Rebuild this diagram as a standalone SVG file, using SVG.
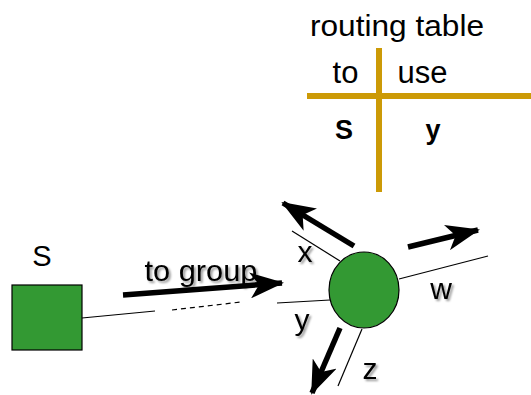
<svg xmlns="http://www.w3.org/2000/svg" width="531" height="395" viewBox="0 0 531 395">
  <style>
    .lbl { font-family: "Liberation Sans", Arial, sans-serif; fill: #000; }
    .thin { stroke: #000; stroke-width: 1.2; fill: none; }
    .thick { stroke: #000; stroke-width: 5.5; fill: none; marker-end: url(#head); }
    .rule { stroke: #cc9a06; stroke-width: 6; }
    .node { fill: #339933; stroke: #000; stroke-width: 1.2; }
    .shadow { filter: url(#drop); }
  </style>
  <defs>
    <marker id="head" viewBox="0 0 34 26" markerUnits="userSpaceOnUse" markerWidth="34" markerHeight="26" refX="32" refY="13" orient="auto">
      <path d="M0,0 L34,13 L0,26 L9,13 Z" fill="#000"/>
    </marker>
    <filter id="drop" x="-20%" y="-20%" width="160%" height="160%">
      <feDropShadow dx="2" dy="2" stdDeviation="1" flood-color="#000" flood-opacity="0.4"/>
    </filter>
  </defs>

  <!-- routing table -->
  <g id="routing-table">
    <text class="lbl" x="397" y="36" font-size="30" text-anchor="middle" textLength="174" lengthAdjust="spacingAndGlyphs">routing table</text>
    <line class="rule" x1="379" y1="48" x2="379" y2="192"/>
    <line class="rule" x1="307" y1="96" x2="531" y2="96"/>
    <text class="lbl" x="345.5" y="83" font-size="31" text-anchor="middle">to</text>
    <text class="lbl" x="422.5" y="83" font-size="31" text-anchor="middle">use</text>
    <text class="lbl" x="344" y="139" font-size="27" font-weight="bold" text-anchor="middle">S</text>
    <text class="lbl" x="433" y="139" font-size="27" font-weight="bold" text-anchor="middle">y</text>
  </g>

  <!-- links and travel arrows -->
  <g id="connectors">
    <polyline class="thin" points="82,318 155,311"/>
    <line class="thin" x1="172" y1="310" x2="241" y2="302" stroke-dasharray="5,4"/>
    <line class="thin" x1="277" y1="303" x2="330" y2="300"/>
    <line class="thin" x1="292" y1="231" x2="340" y2="261"/>
    <line class="thin" x1="399" y1="279" x2="488" y2="256"/>
    <line class="thin" x1="362" y1="329" x2="338" y2="386"/>

    <line class="thick" x1="123" y1="295" x2="282" y2="283"/>
    <line class="thick" x1="354" y1="246" x2="283" y2="203"/>
    <line class="thick" x1="408" y1="247" x2="478" y2="230"/>
    <line class="thick" x1="340" y1="328" x2="312" y2="393"/>
  </g>

  <!-- source -->
  <g id="source">
    <rect class="node" x="12" y="285" width="70" height="65"/>
    <text class="lbl" x="42" y="266" font-size="29" text-anchor="middle">S</text>
  </g>

  <!-- router -->
  <g id="router">
    <ellipse class="node" cx="364" cy="290" rx="35" ry="38"/>
  </g>

  <!-- interface labels -->
  <g id="labels" class="shadow">
    <text class="lbl" x="201" y="281" font-size="29" text-anchor="middle" textLength="113" lengthAdjust="spacingAndGlyphs">to group</text>
    <text class="lbl" x="305" y="262" font-size="30" text-anchor="middle">x</text>
    <text class="lbl" x="441" y="299" font-size="30" text-anchor="middle">w</text>
    <text class="lbl" x="302" y="330" font-size="30" text-anchor="middle">y</text>
    <text class="lbl" x="370" y="379" font-size="30" text-anchor="middle">z</text>
  </g>
</svg>
